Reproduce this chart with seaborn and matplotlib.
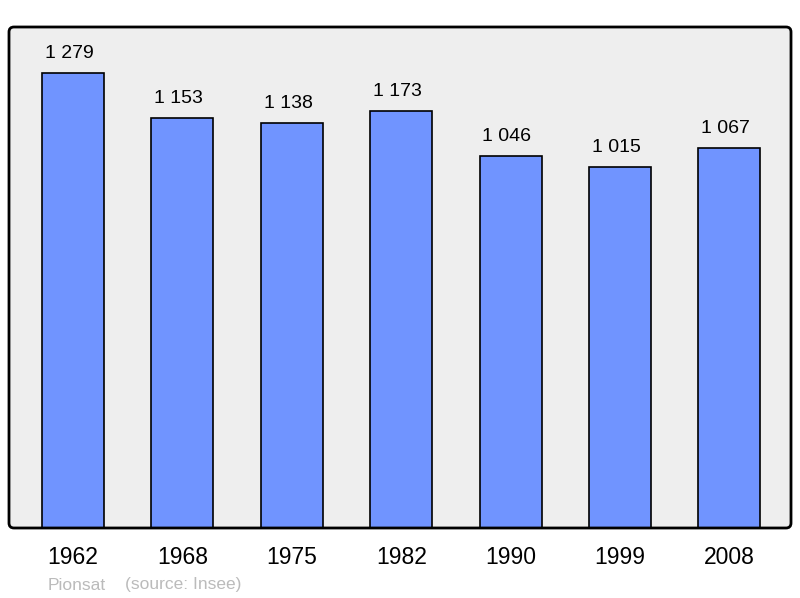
import matplotlib
matplotlib.use("Agg")
import matplotlib.pyplot as plt
import seaborn as sns
import pandas as pd
from matplotlib.patches import FancyBboxPatch
from matplotlib.transforms import IdentityTransform

# population data (Insee)
years = ["1962", "1968", "1975", "1982", "1990", "1999", "2008"]
population = [1279, 1153, 1138, 1173, 1046, 1015, 1067]
value_labels = ["1 279", "1 153", "1 138", "1 173", "1 046", "1 015", "1 067"]

df = pd.DataFrame({"year": years, "pop": population})

sns.set_theme(style="white")
plt.rcParams["font.family"] = ["Liberation Sans", "DejaVu Sans"]

fig = plt.figure(figsize=(8, 5.98), dpi=100)
ax = fig.add_axes([9 / 800, 70 / 598, 782 / 800, 501 / 598])
ax.set_facecolor("#EEEEEE")

sns.barplot(data=df, x="year", y="pop", color="#7094FF", saturation=1,
            width=0.567, edgecolor="black", linewidth=1.2, ax=ax, zorder=3)

# value labels sit slightly left of the bar centre, as in the original
for i, (v, lab) in enumerate(zip(population, value_labels)):
    ax.text(i - 0.035, v + 55, lab, ha="center", va="center", fontsize=14, color="black")

ax.set_xlim(-0.585, 6.563)
ax.set_ylim(0, 1408)
ax.set_yticks([])
ax.set_xlabel("")
ax.set_ylabel("")
ax.tick_params(axis="x", length=0, labelsize=16.5, pad=13, colors="black")
for s in ax.spines.values():
    s.set_visible(False)

# rounded frame around the plot area
frame = FancyBboxPatch((9, 70), 782, 501, boxstyle="round,pad=0,rounding_size=5",
                       fill=False, edgecolor="black", linewidth=2, zorder=10)
frame.set_transform(IdentityTransform())
fig.patches.append(frame)

fig.text(48 / 800, 1 - 585 / 598, "Pionsat", fontsize=12.5, color="#BBBBBB",
         ha="left", va="center")
fig.text(125 / 800, 1 - 585 / 598, "(source: Insee)", fontsize=12.5, color="#BBBBBB",
         ha="left", va="center")

fig.savefig("out.png", dpi=100)
